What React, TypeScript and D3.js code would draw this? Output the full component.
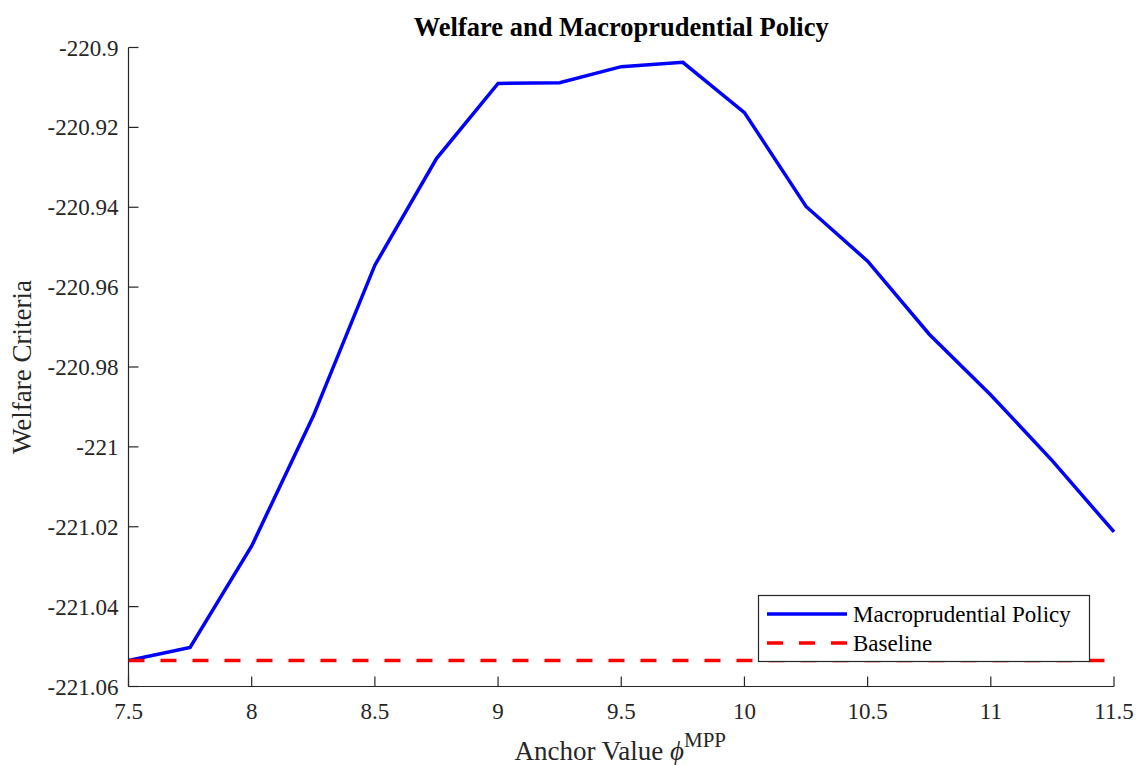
import React, { useEffect, useRef } from "react";
import * as d3 from "d3";

const anchorValues = [7.5, 7.75, 8, 8.25, 8.5, 8.75, 9, 9.25, 9.5, 9.75, 10, 10.25, 10.5, 10.75, 11, 11.25, 11.5];
const welfareMPP = [-221.0535, -221.0502, -221.0248, -220.9923, -220.9545, -220.9278, -220.909, -220.9088, -220.9048, -220.9037, -220.9163, -220.9398, -220.9535, -220.9718, -220.987, -221.0035, -221.0213];
const baselineValue = -221.0535;
const xTicks = [7.5, 8, 8.5, 9, 9.5, 10, 10.5, 11, 11.5];
const yTicks = [-221.06, -221.04, -221.02, -221, -220.98, -220.96, -220.94, -220.92, -220.9];
const legendLabels = ["Macroprudential Policy", "Baseline"];

const W = 1137, H = 765;
const M = { left: 128.5, right: 1114, top: 47.5, bottom: 686.5 };
const FONT = "'Liberation Serif', 'Times New Roman', serif";
const AX = "#262626";

export default function App() {
  const ref = useRef<SVGSVGElement>(null);
  useEffect(() => {
    const svg = d3.select(ref.current);
    svg.selectAll("*").remove();
    const x = d3.scaleLinear().domain([7.5, 11.5]).range([M.left, M.right]);
    const y = d3.scaleLinear().domain([-221.06, -220.9]).range([M.bottom, M.top]);

    // data lines
    const line = d3.line<number>().x((_, i) => x(anchorValues[i])).y((d) => y(d));
    svg.append("path").attr("d", line(welfareMPP)).attr("fill", "none")
      .attr("stroke", "#0000ff").attr("stroke-width", 3.5).attr("stroke-linejoin", "miter");
    svg.append("line").attr("x1", x(7.5)).attr("x2", x(11.5)).attr("y1", y(baselineValue)).attr("y2", y(baselineValue))
      .attr("stroke", "#ff0000").attr("stroke-width", 3.5).attr("stroke-dasharray", "16,16");

    // axes
    const g = svg.append("g");
    g.append("line").attr("x1", M.left).attr("x2", M.right).attr("y1", M.bottom).attr("y2", M.bottom).attr("stroke", AX).attr("stroke-width", 1.2);
    g.append("line").attr("x1", M.left).attr("x2", M.left).attr("y1", M.top).attr("y2", M.bottom).attr("stroke", AX).attr("stroke-width", 1.2);
    xTicks.forEach((t) => {
      g.append("line").attr("x1", x(t)).attr("x2", x(t)).attr("y1", M.bottom).attr("y2", M.bottom - 10).attr("stroke", AX).attr("stroke-width", 1.2);
      g.append("text").attr("x", x(t)).attr("y", M.bottom + 32).attr("text-anchor", "middle")
        .attr("font-family", FONT).attr("font-size", 23).attr("fill", AX).text(String(t));
    });
    yTicks.forEach((t) => {
      g.append("line").attr("x1", M.left).attr("x2", M.left + 10).attr("y1", y(t)).attr("y2", y(t)).attr("stroke", AX).attr("stroke-width", 1.2);
      g.append("text").attr("x", M.left - 10).attr("y", y(t) + 8).attr("text-anchor", "end")
        .attr("font-family", FONT).attr("font-size", 23).attr("fill", AX).text(String(+t.toFixed(2)));
    });

    // title
    svg.append("text").attr("x", (M.left + M.right) / 2).attr("y", 36).attr("text-anchor", "middle")
      .attr("font-family", FONT).attr("font-size", 26.5).attr("font-weight", "bold").attr("fill", "#000")
      .text("Welfare and Macroprudential Policy");

    // x label
    const xl = svg.append("text").attr("x", (M.left + M.right) / 2 - 1).attr("y", 760).attr("text-anchor", "middle")
      .attr("font-family", FONT).attr("font-size", 27).attr("fill", AX);
    xl.append("tspan").text("Anchor Value ");
    xl.append("tspan").attr("font-style", "italic").text("ϕ");
    xl.append("tspan").attr("dy", -13).attr("font-size", 21).text("MPP");

    // y label
    svg.append("text").attr("transform", `translate(31,${(M.top + M.bottom) / 2}) rotate(-90)`)
      .attr("text-anchor", "middle").attr("font-family", FONT).attr("font-size", 27).attr("fill", AX)
      .text("Welfare Criteria");

    // legend
    const lg = svg.append("g");
    lg.append("rect").attr("x", 758.5).attr("y", 595.5).attr("width", 331).attr("height", 66)
      .attr("fill", "#fff").attr("stroke", AX).attr("stroke-width", 1.2);
    const rows = [{ c: "#0000ff", dash: null, y: 614 }, { c: "#ff0000", dash: "16,16", y: 643 }];
    rows.forEach((r, i) => {
      const l = lg.append("line").attr("x1", 767).attr("x2", 847).attr("y1", r.y).attr("y2", r.y)
        .attr("stroke", r.c).attr("stroke-width", 3.5);
      if (r.dash) l.attr("stroke-dasharray", r.dash);
      lg.append("text").attr("x", 853).attr("y", r.y + 8).attr("font-family", FONT).attr("font-size", 23)
        .attr("fill", "#000").text(legendLabels[i]);
    });
  }, []);
  return (
    <svg ref={ref} width={W} height={H} style={{ position: "absolute", left: 0, top: 0, background: "#fff" }} />
  );
}
